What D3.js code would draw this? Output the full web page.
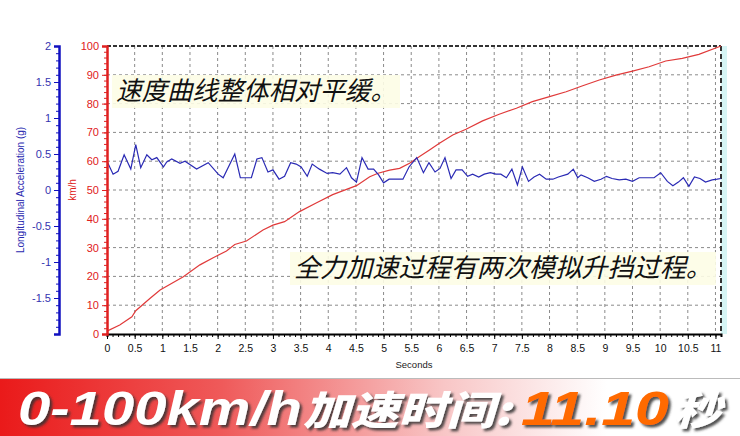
<!DOCTYPE html>
<html><head><meta charset="utf-8">
<script src="https://cdn.jsdelivr.net/npm/d3@7"></script>
<style>body{margin:0;background:#fff}svg{display:block}</style>
</head><body>
<svg id="c" width="740" height="436"></svg>
<script>
// ---- data ----
const accTime = [0.00,0.11,0.20,0.31,0.43,0.52,0.61,0.72,0.81,0.90,1.02,1.08,1.17,1.32,1.41,1.62,1.83,2.01,2.10,2.31,2.41,2.61,2.71,2.80,2.91,3.00,3.11,3.21,3.32,3.42,3.51,3.62,3.71,3.84,3.98,4.08,4.21,4.33,4.42,4.51,4.61,4.72,4.82,4.91,5.00,5.10,5.23,5.35,5.46,5.60,5.72,5.82,5.93,6.02,6.11,6.22,6.31,6.42,6.52,6.61,6.72,6.82,6.93,7.03,7.12,7.22,7.32,7.42,7.51,7.62,7.72,7.82,7.94,8.06,8.16,8.33,8.43,8.51,8.57,8.69,8.81,8.93,9.03,9.13,9.26,9.38,9.50,9.62,9.74,9.89,10.01,10.13,10.23,10.33,10.42,10.52,10.62,10.72,10.82,10.94,11.03,11.10];
const accel = [0.40,0.22,0.26,0.49,0.29,0.63,0.31,0.49,0.42,0.45,0.32,0.39,0.43,0.37,0.40,0.29,0.38,0.22,0.17,0.50,0.17,0.17,0.43,0.45,0.25,0.28,0.15,0.19,0.38,0.36,0.32,0.19,0.36,0.29,0.23,0.24,0.22,0.31,0.17,0.11,0.45,0.29,0.29,0.21,0.10,0.15,0.15,0.15,0.32,0.45,0.24,0.38,0.25,0.30,0.45,0.16,0.28,0.28,0.19,0.22,0.18,0.22,0.24,0.22,0.22,0.17,0.29,0.07,0.32,0.12,0.18,0.22,0.15,0.15,0.18,0.22,0.29,0.17,0.21,0.17,0.12,0.15,0.19,0.16,0.14,0.15,0.12,0.17,0.17,0.17,0.24,0.12,0.06,0.11,0.17,0.05,0.18,0.16,0.11,0.14,0.15,0.16];
const speedTime = [0.00,0.23,0.45,0.52,0.78,0.96,1.38,1.68,1.92,2.16,2.31,2.52,2.82,3.00,3.21,3.48,3.79,4.08,4.33,4.51,4.75,4.90,5.11,5.29,5.47,5.65,5.83,6.01,6.25,6.49,6.79,7.09,7.40,7.69,8.00,8.30,8.60,8.90,9.20,9.50,9.80,10.10,10.40,10.70,11.10];
const speed = [1.0,3.1,6.0,8.1,12.4,15.3,19.9,24.0,26.5,28.8,31.1,32.3,36.1,37.8,39.0,42.5,45.6,48.4,50.2,51.5,54.6,55.8,56.9,57.5,59.3,61.6,63.9,66.2,69.1,71.1,74.0,76.3,78.4,80.7,82.4,84.1,86.2,88.2,89.9,91.3,92.8,94.8,95.7,97.1,100.0];
const xTicks = [0,0.5,1,1.5,2,2.5,3,3.5,4,4.5,5,5.5,6,6.5,7,7.5,8,8.5,9,9.5,10,10.5,11];
const speedTicks = [0,10,20,30,40,50,60,70,80,90,100];
const accTicks = [-1.5,-1,-0.5,0,0.5,1,1.5,2];
const note1 = "速度曲线整体相对平缓。";
const note2 = "全力加速过程有两次模拟升挡过程。";
const bannerA1 = "0-100km/h";
const bannerA2 = "加速时间:";
const bannerB = "11.10";
const bannerC = "秒";

// ---- layout ----
const svg = d3.select("#c");
const L = 107, R = 721, T = 46, B = 334;
const x = d3.scaleLinear().domain([0, 11.1]).range([L, R]);
const yS = d3.scaleLinear().domain([0, 100]).range([B, T]);
const yA = d3.scaleLinear().domain([-2, 2]).range([B, T]);
const latin = "'Liberation Sans', Arial, sans-serif";
const cjk = "'Noto Sans CJK SC', 'Noto Sans', sans-serif";

const defs = svg.append("defs");
const f = defs.append("filter").attr("id", "sh").attr("x", "-5%").attr("y", "-20%").attr("width", "115%").attr("height", "150%");
f.append("feDropShadow").attr("dx", 2.5).attr("dy", 2.5).attr("stdDeviation", 0.8)
  .attr("flood-color", "#333").attr("flood-opacity", 0.85);

// right cyan strip
svg.append("rect").attr("x", R).attr("y", T).attr("width", 6).attr("height", B - T).attr("fill", "#d6f5f5");

// grid
const g = svg.append("g");
g.selectAll(".vg").data(xTicks.slice(1)).join("line")
  .attr("x1", d => x(d)).attr("x2", d => x(d)).attr("y1", T).attr("y2", B)
  .attr("stroke", "#8a8a8a").attr("stroke-dasharray", "3,3").attr("stroke-width", 1);
g.selectAll(".hg").data(speedTicks.slice(1, -1)).join("line")
  .attr("x1", L).attr("x2", R).attr("y1", d => yS(d)).attr("y2", d => yS(d))
  .attr("stroke", "#8a8a8a").attr("stroke-dasharray", "3,3").attr("stroke-width", 1);
// top & right frame
svg.append("line").attr("x1", L).attr("x2", R).attr("y1", T).attr("y2", T)
  .attr("stroke", "#333").attr("stroke-width", 2).attr("stroke-dasharray", "4,2");
svg.append("line").attr("x1", R).attr("x2", R).attr("y1", T).attr("y2", B)
  .attr("stroke", "#333").attr("stroke-width", 2).attr("stroke-dasharray", "5,3");

// annotation notes
function note(txt, xx, yy, w) {
  svg.append("rect").attr("x", xx - 4).attr("y", yy - 25).attr("width", w + 8).attr("height", 33)
    .attr("fill", "#fdfde6").attr("opacity", 0.9);
  svg.append("text").attr("x", xx).attr("y", yy).text(txt)
    .attr("font-family", cjk).attr("font-size", 26).attr("font-style", "italic").attr("fill", "#111")
    .attr("textLength", w).attr("lengthAdjust", "spacingAndGlyphs");
}
note(note1, 116, 100, 280);
note(note2, 294, 277, 418);

// lines
svg.append("path").datum(speedTime.map((t, i) => [t, speed[i]]))
  .attr("d", d3.line().x(d => x(d[0])).y(d => yS(d[1])))
  .attr("fill", "none").attr("stroke", "#e03a3a").attr("stroke-width", 1.2);
svg.append("path").datum(accTime.map((t, i) => [t, accel[i]]))
  .attr("d", d3.line().x(d => x(d[0])).y(d => yA(d[1])))
  .attr("fill", "none").attr("stroke", "#2a2ab4").attr("stroke-width", 1.2);

// x axis
const xa = svg.append("g").attr("transform", `translate(0,${B})`)
  .call(d3.axisBottom(x).tickValues(d3.range(0, 111).map(i => i / 10)).tickSize(3).tickFormat(""));
xa.select(".domain").attr("stroke", "#000").attr("stroke-width", 2);
xa.selectAll(".tick line").attr("stroke", "#000");
const xl = svg.append("g").attr("transform", `translate(0,${B})`)
  .call(d3.axisBottom(x).tickValues(xTicks).tickSize(5).tickPadding(6).tickFormat(d => d));
xl.select(".domain").remove();
xl.selectAll("text").attr("font-family", latin).attr("font-size", 10.5).attr("fill", "#111");
xl.selectAll(".tick line").attr("stroke", "#000");
svg.append("text").attr("x", 414).attr("y", 368).attr("text-anchor", "middle")
  .attr("font-family", latin).attr("font-size", 9.5).attr("fill", "#222").text("Seconds");

// speed axis (red)
const sa = svg.append("g").attr("transform", `translate(${L},0)`)
  .call(d3.axisLeft(yS).tickValues(d3.range(0, 101, 2)).tickSize(3).tickFormat(""));
sa.selectAll(".tick line").attr("stroke", "#e02020");
sa.select(".domain").remove();
const sl = svg.append("g").attr("transform", `translate(${L},0)`)
  .call(d3.axisLeft(yS).tickValues(speedTicks).tickSize(5).tickPadding(3));
sl.select(".domain").attr("stroke", "#e02020").attr("stroke-width", 2.5);
sl.selectAll(".tick line").attr("stroke", "#e02020");
sl.selectAll("text").attr("font-family", latin).attr("font-size", 11).attr("fill", "#e02020");
svg.append("text").attr("transform", `translate(76,190) rotate(-90)`).attr("text-anchor", "middle")
  .attr("font-family", latin).attr("font-size", 10).attr("fill", "#e02020").text("km/h");

// accel axis (blue)
const AX = 59;
const aa = svg.append("g").attr("transform", `translate(${AX},0)`)
  .call(d3.axisLeft(yA).tickValues(d3.range(-20, 21).map(i => i / 10)).tickSize(3).tickFormat(""));
aa.selectAll(".tick line").attr("stroke", "#1010c0");
aa.select(".domain").remove();
const al = svg.append("g").attr("transform", `translate(${AX},0)`)
  .call(d3.axisLeft(yA).tickValues(accTicks).tickSize(5).tickPadding(3).tickFormat(d => d));
al.select(".domain").attr("stroke", "#1010c0").attr("stroke-width", 2.5);
al.selectAll(".tick line").attr("stroke", "#1010c0");
al.selectAll("text").attr("font-family", latin).attr("font-size", 11).attr("fill", "#3434b0");
svg.append("text").attr("transform", `translate(24,190) rotate(-90)`).attr("text-anchor", "middle")
  .attr("font-family", latin).attr("font-size", 10).attr("fill", "#2a2ab0").text("Longitudinal Acceleration (g)");

// banner
const lg = defs.append("linearGradient").attr("id", "bg").attr("x1", "0").attr("x2", "1").attr("y1", "0").attr("y2", "0");
lg.append("stop").attr("offset", "0").attr("stop-color", "#ea1a1a");
lg.append("stop").attr("offset", "0.3").attr("stop-color", "#ef5a5a");
lg.append("stop").attr("offset", "0.6").attr("stop-color", "#f8c6c6");
lg.append("stop").attr("offset", "0.82").attr("stop-color", "#ffffff");
lg.append("stop").attr("offset", "1").attr("stop-color", "#ffffff");
svg.append("rect").attr("x", 0).attr("y", 378).attr("width", 740).attr("height", 58).attr("fill", "url(#bg)");
svg.append("line").attr("x1", 0).attr("x2", 740).attr("y1", 378.5).attr("y2", 378.5).attr("stroke", "#bbb");

function bannerText(txt, xx, w, fill, fam, fs, base) {
  svg.append("text").attr("x", xx).attr("y", base).attr("font-family", fam).attr("font-weight", 900)
    .attr("font-style", "italic").attr("font-size", fs)
    .attr("textLength", w).attr("lengthAdjust", "spacingAndGlyphs").text(txt)
    .attr("fill", fill).attr("filter", "url(#sh)");
}
bannerText(bannerA1, 18, 284, "#ffffff", latin, 49, 425);
bannerText(bannerA2, 303, 208, "#ffffff", cjk, 40, 424.5);
bannerText(bannerB, 521, 148, "#ff6a00", latin, 49, 425);
bannerText(bannerC, 673, 48, "#ffffff", cjk, 40, 424.5);
</script>
</body></html>
